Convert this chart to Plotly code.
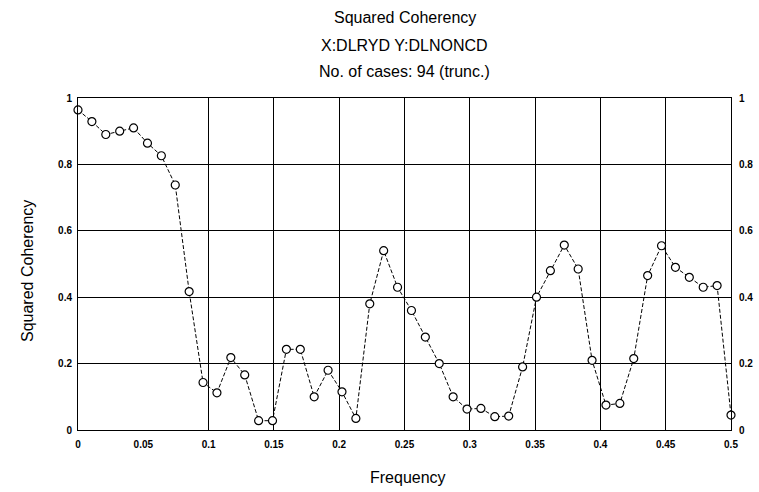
import plotly.graph_objects as go

n_cases = 94
coherency = [0.964, 0.929, 0.89, 0.90, 0.91, 0.864, 0.826, 0.738, 0.417, 0.143,
             0.112, 0.218, 0.166, 0.028, 0.028, 0.243, 0.243, 0.10, 0.18, 0.115,
             0.035, 0.38, 0.54, 0.43, 0.36, 0.28, 0.20, 0.10, 0.063, 0.065,
             0.04, 0.042, 0.19, 0.40, 0.48, 0.557, 0.485, 0.21, 0.075, 0.08,
             0.215, 0.465, 0.555, 0.49, 0.46, 0.43, 0.435, 0.045]
frequency = [k / n_cases for k in range(len(coherency))]

x_ticks = [0, 0.05, 0.1, 0.15, 0.2, 0.25, 0.3, 0.35, 0.4, 0.45, 0.5]
x_labels = ["0", "0.05", "0.1", "0.15", "0.2", "0.25", "0.3", "0.35", "0.4", "0.45", "0.5"]
x_grid = [0.1, 0.15, 0.2, 0.25, 0.3, 0.35, 0.4, 0.45]  # reference has no 0.05 grid line
y_ticks = [0, 0.2, 0.4, 0.6, 0.8, 1]
y_labels = ["0", "0.2", "0.4", "0.6", "0.8", "1"]
title_lines = ["Squared Coherency", "X:DLRYD Y:DLNONCD", "No. of cases: 94 (trunc.)"]

FONT = "Liberation Sans, Arial, sans-serif"
W, H = 759, 492
ML, MR, MT, MB = 78, 28, 98, 62
plot_w = W - ML - MR
plot_h = H - MT - MB

fig = go.Figure()
# invisible helper traces so the grid axis and right axis are drawn
fig.add_trace(go.Scatter(
    x=frequency, y=coherency, xaxis="x2", yaxis="y", mode="lines",
    opacity=0, showlegend=False, hoverinfo="skip"))
fig.add_trace(go.Scatter(
    x=frequency, y=coherency, yaxis="y2", mode="lines",
    opacity=0, showlegend=False, hoverinfo="skip"))
fig.add_trace(go.Scatter(
    x=frequency, y=coherency, mode="lines+markers",
    line=dict(color="black", width=1, dash="4px,2px"),
    marker=dict(symbol="circle", size=8, color="white",
                line=dict(color="black", width=1.2)),
    cliponaxis=False, showlegend=False, hoverinfo="x+y"))

tickfont = dict(family=FONT, size=10, color="black")
fig.update_layout(
    width=W, height=H,
    margin=dict(l=ML, r=MR, t=MT, b=MB),
    paper_bgcolor="white", plot_bgcolor="white",
    font=dict(family=FONT, color="black"),
    xaxis=dict(range=[0, 0.5], tickvals=x_ticks,
               ticktext=["<b>%s</b>" % t for t in x_labels],
               tickfont=tickfont, showgrid=False,
               showline=True, linecolor="black", linewidth=1, mirror=True,
               zeroline=False, ticks="outside", ticklen=5, tickcolor="white",
               automargin=False),
    xaxis2=dict(range=[0, 0.5], overlaying="x", side="bottom", tickvals=x_grid,
                showticklabels=False, ticks="", showgrid=True, gridcolor="black",
                gridwidth=1, showline=False, zeroline=False, automargin=False),
    yaxis=dict(range=[0, 1], tickvals=y_ticks,
               ticktext=["<b>%s</b>" % t for t in y_labels],
               tickfont=tickfont, showgrid=True, gridcolor="black", gridwidth=1,
               showline=True, linecolor="black", linewidth=1, mirror=True,
               zeroline=False, ticks="outside", ticklen=3, tickcolor="white",
               automargin=False),
    yaxis2=dict(range=[0, 1], overlaying="y", side="right", tickvals=y_ticks,
                ticktext=["<b>%s</b>" % t for t in y_labels],
                tickfont=tickfont, showgrid=False, zeroline=False,
                ticks="outside", ticklen=5, tickcolor="white",
                showline=False, automargin=False),
)

anns = []
for text, ypx in zip(title_lines, [17, 45, 72]):
    anns.append(dict(text=text, x=0.5, xref="paper",
                     y=(H - MB - ypx) / plot_h, yref="paper", yanchor="middle",
                     showarrow=False, font=dict(family=FONT, size=16)))
anns.append(dict(text="Frequency", x=(408 - ML) / plot_w, xref="paper",
                 y=(H - MB - 477) / plot_h, yref="paper", yanchor="middle",
                 showarrow=False, font=dict(family=FONT, size=16)))
anns.append(dict(text="Squared Coherency", x=(27 - ML) / plot_w, xref="paper",
                 xanchor="center", y=(H - MB - 271) / plot_h, yref="paper",
                 yanchor="middle", textangle=-90,
                 showarrow=False, font=dict(family=FONT, size=16)))
fig.update_layout(annotations=anns)

fig.write_html("out.html", config={"displayModeBar": False},
               post_script="document.body.style.margin='0';")
